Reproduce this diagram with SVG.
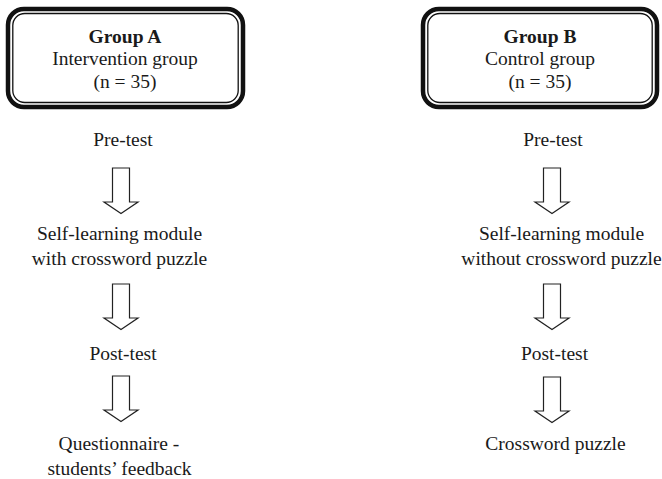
<svg xmlns="http://www.w3.org/2000/svg" width="662" height="479" viewBox="0 0 662 479">
<style>
text{font-family:"Liberation Serif","Times New Roman",serif;font-size:19.5px;fill:#1a1a1a;text-anchor:middle}
.b{font-weight:bold}
.outer{fill:none;stroke:#111;stroke-width:4.5}
.inner{fill:none;stroke:#111;stroke-width:1.3}
.arr{fill:#fff;stroke:#222;stroke-width:1.2;stroke-linejoin:miter}
</style>
<defs>
<path id="arrow" class="arr" d="M-8.5,0 H8.5 V34 H17 L0,45.5 L-17,34 H-8.5 Z"/>
</defs>
<rect width="662" height="479" fill="#fff"/>
<g id="groupA">
<rect class="outer" x="8" y="9" width="235" height="98" rx="16"/>
<rect class="inner" x="12.8" y="13.5" width="225.4" height="89" rx="12"/>
<text class="b" x="125" y="43">Group A</text>
<text x="125" y="64.5">Intervention group</text>
<text x="125" y="87.5">(n = 35)</text>
</g>
<g id="groupB">
<rect class="outer" x="423" y="9" width="234" height="98" rx="16"/>
<rect class="inner" x="427.8" y="13.5" width="224.4" height="89" rx="12"/>
<text class="b" x="540" y="43">Group B</text>
<text x="540" y="64.5">Control group</text>
<text x="540" y="87.5">(n = 35)</text>
</g>
<g id="a-pre"><text x="123" y="146">Pre-test</text></g>
<g id="a-module"><text x="119.5" y="240">Self-learning module</text><text x="119.5" y="265">with crossword puzzle</text></g>
<g id="a-post"><text x="123" y="360">Post-test</text></g>
<g id="a-quest"><text x="119" y="450">Questionnaire -</text><text x="119.5" y="475">students’ feedback</text></g>
<g id="b-pre"><text x="553" y="146">Pre-test</text></g>
<g id="b-module"><text x="561.5" y="240">Self-learning module</text><text x="561.5" y="265">without crossword puzzle</text></g>
<g id="b-post"><text x="554.5" y="360">Post-test</text></g>
<g id="b-cross"><text x="555.5" y="450">Crossword puzzle</text></g>
<g id="connectors">
<use href="#arrow" x="121" y="168"/>
<use href="#arrow" x="121" y="284"/>
<use href="#arrow" x="121" y="376"/>
<use href="#arrow" x="552" y="168"/>
<use href="#arrow" x="552" y="284"/>
<use href="#arrow" x="552" y="377"/>
</g>
</svg>
